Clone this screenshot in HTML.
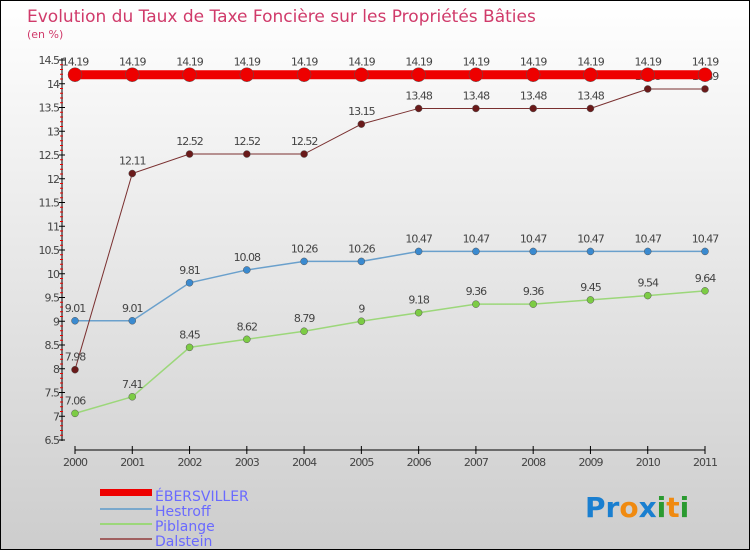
<!DOCTYPE html>
<html><head><meta charset="utf-8"><style>
body{margin:0;width:750px;height:550px;overflow:hidden}
svg{display:block;font-family:"DejaVu Sans","Liberation Sans",sans-serif}
</style></head><body>
<svg width="750" height="550">
<defs><linearGradient id="bg" x1="0" y1="0" x2="0" y2="1"><stop offset="0" stop-color="#ffffff"/><stop offset="1" stop-color="#cdcdcd"/></linearGradient></defs>
<rect x="0.5" y="0.5" width="749" height="549" fill="url(#bg)" stroke="#000"/>
<text x="27" y="22" font-size="17" fill="#d03a6a">Evolution du Taux de Taxe Foncière sur les Propriétés Bâties</text>
<text x="27" y="38" font-size="11" fill="#d03a6a">(en %)</text>
<g id="axes"></g><g id="series"></g>
<g>
<rect x="100" y="489" width="52" height="7" fill="#e00"/>
<text x="155" y="501" font-size="14" fill="#6a6aff">ÉBERSVILLER</text>
<rect x="100" y="508" width="52" height="2" fill="#7aa8cc"/>
<text x="155" y="516" font-size="14" fill="#6a6aff">Hestroff</text>
<rect x="100" y="523" width="52" height="2" fill="#9cd77a"/>
<text x="155" y="531" font-size="14" fill="#6a6aff">Piblange</text>
<rect x="100" y="538" width="52" height="2" fill="#a06060"/>
<text x="155" y="546" font-size="14" fill="#6a6aff">Dalstein</text>
</g>
<g font-size="28" font-weight="bold">
<text x="585" y="517"><tspan fill="#1a7fd0">Pr</tspan><tspan fill="#f08a10">o</tspan><tspan fill="#1a7fd0">x</tspan><tspan fill="#2a9a30">i</tspan><tspan fill="#f08a10">t</tspan><tspan fill="#2a9a30">i</tspan></text>
</g>
</svg>
<script>
const years=[2000,2001,2002,2003,2004,2005,2006,2007,2008,2009,2010,2011];
const ebersviller=[14.19,14.19,14.19,14.19,14.19,14.19,14.19,14.19,14.19,14.19,14.19,14.19];
const hestroff=[9.01,9.01,9.81,10.08,10.26,10.26,10.47,10.47,10.47,10.47,10.47,10.47];
const piblange=[7.06,7.41,8.45,8.62,8.79,9,9.18,9.36,9.36,9.45,9.54,9.64];
const dalstein=[7.98,12.11,12.52,12.52,12.52,13.15,13.48,13.48,13.48,13.48,13.89,13.89];
const yTicks=[6.5,7,7.5,8,8.5,9,9.5,10,10.5,11,11.5,12,12.5,13,13.5,14,14.5];
const NS='http://www.w3.org/2000/svg';
const x=i=>75+i*(705-75)/(years.length-1);
const y=v=>440-(v-6.5)*47.5;
function mk(t,a,p){const e=document.createElementNS(NS,t);for(const k in a)e.setAttribute(k,a[k]);p.appendChild(e);return e;}
const ax=document.getElementById('axes');
let l=mk('line',{x1:62,y1:58,x2:62,y2:441,stroke:'#000'},ax);


yTicks.forEach((v,k)=>{
 mk('line',{x1:59,x2:65,y1:y(v),y2:y(v),stroke:'#000'},ax);
 if(k<yTicks.length-1)for(let j=1;j<=4;j++){mk('line',{x1:60,x2:63,y1:y(v)-j*4.75,y2:y(v)-j*4.75,stroke:'#e00'},ax);}
 const t=mk('text',{x:59,y:y(v)+4,'font-size':11,'text-anchor':'end',fill:'#444','letter-spacing':'-1'},ax);
 t.textContent=v;
 
 
});
l=mk('line',{x1:75,y1:450,x2:705,y2:450,stroke:'#000'},ax);


years.forEach((yr,i)=>{
 mk('line',{x1:x(i),x2:x(i),y1:446,y2:454,stroke:'#000'},ax);
 const t=mk('text',{x:x(i),y:466,'font-size':11,'text-anchor':'middle',fill:'#444','letter-spacing':'-1'},ax);
 t.textContent=yr;
 
 
});
const sg=document.getElementById('series');
function series(name,data,color,dot,w,r){
 const g=mk('g',{},sg);
 
 
 const pl=mk('polyline',{points:data.map((v,i)=>x(i)+','+y(v)).join(' '),fill:'none',stroke:color,'stroke-width':w},g);
 
 
 data.forEach((v,i)=>{
  const c=mk('circle',{cx:x(i),cy:y(v),r:r,fill:dot,stroke:'#555','stroke-width':0.5},g);
  
  
  const t=mk('text',{x:x(i),y:y(v)-9,'font-size':11,'text-anchor':'middle',fill:'#444','letter-spacing':'-1'},g);
  t.textContent=v;
  
  
 });
}
series('piblange',piblange,'#9cd77a','#7ccc44',1.5,3.5);
series('hestroff',hestroff,'#6aa0cc','#3a8ad0',1.5,3.5);
series('dalstein',dalstein,'#7a3030','#6a1a1a',1,3.5);
series('ebersviller',ebersviller,'#ee0000','#ee0000',9,7);
</script>
</body></html>
